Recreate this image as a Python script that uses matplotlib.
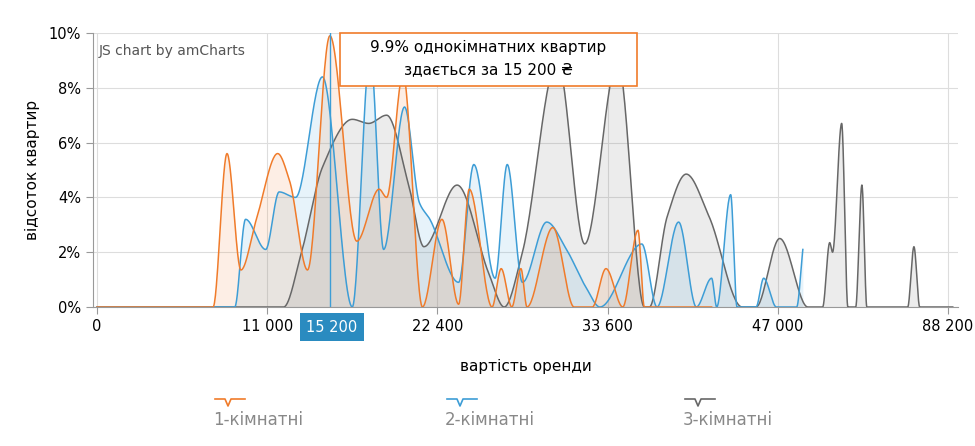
import numpy as np
import matplotlib
matplotlib.use("Agg")
import matplotlib.pyplot as plt
from matplotlib.patches import Rectangle

tick_values = [0, 11000, 22400, 33600, 47000, 88200]
tick_labels = ["0", "11 000", "22 400", "33 600", "47 000", "88 200"]

one_x = [0, 7500, 8400, 9300, 10300, 11700, 12500, 13700, 15200, 17000, 18500, 19000, 20100, 21400,
         22700, 23800, 24500, 26000, 26600, 27300, 27900, 28300, 30000, 31400, 32600, 33500, 34800,
         36000, 36500, 41800]
one_y = [0, 0, 5.6, 1.35, 3.2, 5.6, 4.6, 1.35, 9.9, 2.4, 4.3, 4.0, 8.5, 0,
         3.2, 0.1, 4.3, 0, 1.4, 0, 1.4, 0, 2.9, 0, 0, 1.4, 0,
         2.8, 0, 0]
two_x = [0, 8900, 9600, 10900, 11800, 12900, 14700, 16700, 17900, 18800, 20200, 21200, 21900, 23800,
         24800, 26200, 27000, 28000, 29600, 30900, 32200, 33100, 36300, 37500, 39200, 40600, 41800,
         42200, 43300, 43800, 45300, 45900, 46900, 51600, 53100]
two_y = [0, 0, 3.2, 2.1, 4.2, 4.0, 8.4, 0, 9.3, 2.1, 7.3, 3.8, 3.2, 0.9,
         5.2, 1.05, 5.2, 0.9, 3.1, 2.1, 0.7, 0, 2.3, 0, 3.1, 0, 1.05,
         0, 4.1, 0, 0, 1.05, 0, 0, 2.1]
three_x = [0, 12100, 13300, 14700, 16700, 17800, 19000, 20500, 21500, 23700, 25800, 26800, 28000,
           30300, 32100, 34400, 36500, 36900, 38300, 39800, 41600, 44200, 45300, 47500, 54300, 57900,
           59600, 60300, 62500, 64000, 65900, 67400, 68600, 78500, 80000, 81400, 89400]
three_y = [0, 0, 2.0, 5.1, 6.85, 6.7, 7.0, 4.4, 2.2, 4.45, 1.2, 0, 2.0,
           9.0, 2.3, 9.0, 0, 0, 3.3, 4.85, 3.3, 0, 0, 2.5, 0, 0,
           2.35, 2.0, 6.7, 0, 0, 4.45, 0, 0, 2.2, 0, 0]
series_names = ["1-кімнатні", "2-кімнатні", "3-кімнатні"]
colors = ["#f07b2a", "#3d9dd6", "#676767"]

tv = np.array(tick_values, float)
tp = np.arange(len(tv), dtype=float)

def fwd(v):
    v = np.asarray(v, float)
    out = np.interp(v, tv, tp)
    out = np.where(v > tv[-1], tp[-1] + (v - tv[-1]) / (tv[-1] - tv[-2]), out)
    out = np.where(v < 0, v / (tv[1] - tv[0]), out)
    return out

def inv(p):
    p = np.asarray(p, float)
    out = np.interp(p, tp, tv)
    out = np.where(p > tp[-1], tv[-1] + (p - tp[-1]) * (tv[-1] - tv[-2]), out)
    out = np.where(p < 0, p * (tv[1] - tv[0]), out)
    return out

def pchip(x, y, n=30):
    x = np.asarray(x, float); y = np.asarray(y, float)
    h = np.diff(x); d = np.diff(y) / h
    m = np.zeros_like(y)
    m[0] = d[0]; m[-1] = d[-1]
    for k in range(1, len(x) - 1):
        if d[k - 1] * d[k] <= 0:
            m[k] = 0
        else:
            w1 = 2 * h[k] + h[k - 1]; w2 = h[k] + 2 * h[k - 1]
            m[k] = (w1 + w2) / (w1 / d[k - 1] + w2 / d[k])
    xs, ys = [], []
    for k in range(len(h)):
        t = np.linspace(0, 1, n, endpoint=False)
        h00 = 2*t**3 - 3*t**2 + 1; h10 = t**3 - 2*t**2 + t
        h01 = -2*t**3 + 3*t**2; h11 = t**3 - t**2
        xs.append(x[k] + t * h[k])
        ys.append(h00*y[k] + h10*h[k]*m[k] + h01*y[k+1] + h11*h[k]*m[k+1])
    xs.append([x[-1]]); ys.append([y[-1]])
    return np.concatenate(xs), np.clip(np.concatenate(ys), 0, None)

fig = plt.figure(figsize=(9.75, 4.46), dpi=100)
ax = fig.add_axes([93/975, 1-307/446, (958-93)/975, (307-33)/446])
ax.set_xscale('function', functions=(fwd, inv))

for xs_, ys_, c in [(three_x, three_y, colors[2]), (two_x, two_y, colors[1]), (one_x, one_y, colors[0])]:
    p, yy = pchip(fwd(xs_), ys_)
    xx = inv(p)
    ax.fill_between(xx, 0, yy, color=c, alpha=0.12, lw=0)
    ax.plot(xx, yy, color=c, lw=1.1)

ax.set_xlim(inv(-0.024), inv(5.06))
ax.set_ylim(0, 10)
ax.set_xticks(tick_values)
ax.set_xticklabels(tick_labels)
ax.set_yticks([0, 2, 4, 6, 8, 10])
ax.set_yticklabels(["0%", "2%", "4%", "6%", "8%", "10%"])
ax.grid(True, color="#dddddd", lw=0.8)
ax.set_axisbelow(True)
for s in ["top", "right"]:
    ax.spines[s].set_visible(False)
for s in ["left", "bottom"]:
    ax.spines[s].set_color("#999999")
ax.tick_params(colors="#000000", labelsize=10.5, length=5, color="#999999")
ax.set_xlabel("вартість оренди", fontsize=11, labelpad=18)
ax.set_ylabel("відсоток квартир", fontsize=11, labelpad=6)

ax.text(0.006, 0.96, "JS chart by amCharts", transform=ax.transAxes, fontsize=10,
        color="#555555", va="top")

# cursor
ax.axvline(15200, color=colors[1], lw=1)
fig.text(332/975, 1-327/446, "15 200", ha="center", va="center", fontsize=10.5, color="white",
         bbox=dict(boxstyle="square,pad=0.45", fc="#2a8bc0", ec="none"))
# tooltip
fig.patches.append(Rectangle((340/975, 1-86/446), 297/975, 53/446, transform=fig.transFigure,
                             fc="white", ec=colors[0], lw=1.2))
fig.text(488/975, 1-47/446, "9.9% однокімнатних квартир", ha="center", va="center", fontsize=11)
fig.text(488/975, 1-70/446, "здається за 15 200 ₴", ha="center", va="center", fontsize=11)

# legend
for cx, name, c in zip([230, 462, 700], series_names, colors):
    xs_ = np.array([-15, -5, -2, 1, 4, 15]) + cx
    ys_ = np.array([0, 0, 7, 0, 0, 0]) + 399
    fig.add_artist(plt.Line2D(xs_/975, 1-ys_/446, color=c, lw=1.2))
    fig.text((cx-17)/975, 1-420/446, name, fontsize=12, color="#888888", va="center", ha="left")

fig.savefig("out.png", dpi=100)
